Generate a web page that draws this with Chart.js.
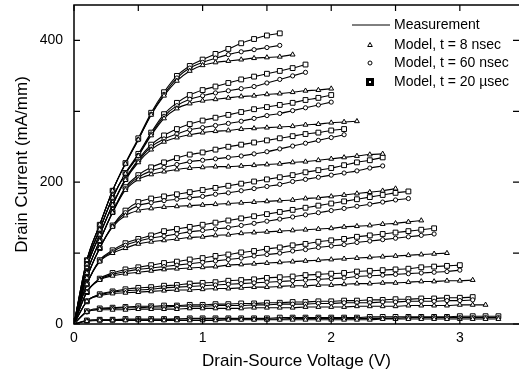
<!DOCTYPE html>
<html>
<head>
<meta charset="utf-8">
<script src="https://cdn.jsdelivr.net/npm/chart.js@4.4.0/dist/chart.umd.min.js"></script>
<style>
  body { margin: 0; background: #fff; }
  #wrap { width: 524px; height: 377px; }
</style>
</head>
<body>
<div id="wrap"><canvas id="ivChart" width="524" height="377"></canvas></div>
<script>
// Drain-source voltage grid (V), one model point every 0.1 V
const vds = [0, 0.1, 0.2, 0.3, 0.4, 0.5, 0.6, 0.7, 0.8, 0.9, 1.0, 1.1, 1.2, 1.3, 1.4, 1.5, 1.6,
  1.7, 1.8, 1.9, 2.0, 2.1, 2.2, 2.3, 2.4, 2.5, 2.6, 2.7, 2.8, 2.9, 3.0, 3.1, 3.2, 3.3];

// Drain current (mA/mm), one group per gate voltage, top to bottom
// Tri = 8 nsec pulse, Circ = 60 nsec, Sq = 20 usec
const g1Tri  = [0,90,140,188,226,260,295,322,343,357,365,369,371,373,375,376,377,380];
const g1Circ = [0,90,140,188,226,260,296,324,347,361,369,375,380,384,387,390,393];
const g1Sq   = [0,90,140,188,227,262,298,327,350,364,373,381,388,396,402,407,410];

const g2Tri  = [0,85,133,178,212,237,266,290,304,311,315,317,319,321,322,324,325,327,329,330,332];
const g2Circ = [0,85,133,178,212,238,268,293,308,317,322,326,329,332,335,340,345,350,355];
const g2Sq   = [0,85,133,178,213,240,270,296,312,323,330,335,340,345,349,353,357,361,366];

const g3Tri  = [0,80,126,168,203,228,246,257,263,267,270,272,273,275,276,277,278,279,281,282,284,285,286];
const g3Circ = [0,80,126,168,204,230,250,261,268,274,277,280,283,286,290,294,297,301,305,309,313];
const g3Sq   = [0,80,126,168,205,232,253,266,275,282,287,291,295,299,303,306,309,312,316,319,323];

const g4Tri  = [0,72,117,157,189,204,211,215,218,220,221,222,222,223,224,225,226,228,229,231,233,235,237,239,240];
const g4Circ = [0,72,117,158,191,207,216,221,225,229,231,233,235,237,240,243,247,251,255,259,263,267];
const g4Sq   = [0,72,117,158,193,210,221,228,234,239,242,246,250,253,256,259,262,265,268,270,273,275];

const g5Tri  = [0,65,107,137,153,160,163,165,166,167,168,169,170,171,172,173,174,175,177,178,180,182,184,186,188,191];
const g5Circ = [0,65,107,138,157,167,171,174,176,178,180,183,185,188,191,194,197,201,204,207,210,213,216,220,223];
const g5Sq   = [0,65,107,139,160,172,177,180,183,186,189,192,195,198,201,204,207,210,214,217,220,224,228,231,235];

const g6Tri  = [0,56,88,100,107,113,116,118,120,122,123,125,126,128,129,130,131,132,133,134,135,137,138,139,141,142,144,146];
const g6Circ = [0,56,89,102,111,117,121,124,127,130,132,134,136,139,142,145,148,151,154,157,160,163,166,169,172,175,177];
const g6Sq   = [0,56,90,104,114,120,125,131,134,137,140,143,146,149,152,155,158,161,164,167,170,173,176,179,182,185,187];

const g7Tri  = [0,45,62,68,71,73,75,77,78,79,80,81,83,84,85,86,87,88,89,90,91,92,93,94,95,96,97,98,99,100];
const g7Circ = [0,45,63,70,74,77,79,81,83,85,87,89,91,93,96,98,100,103,105,108,110,112,115,117,119,121,123,125,127];
const g7Sq   = [0,45,64,72,77,80,83,86,88,91,93,96,98,101,103,106,108,111,113,116,118,120,123,125,127,129,131,133,135];

const g8Tri  = [0,32,40,43,44,45,46,47,48,48,49,50,50,51,52,52,53,54,54,55,55,56,57,57,58,58,59,60,60,61,61,62];
const g8Circ = [0,32,41,45,47,48,49,51,52,53,54,55,56,57,58,59,60,61,62,63,64,65,67,68,69,70,71,72,73,74,76];
const g8Sq   = [0,32,42,46,49,51,52,54,55,57,58,59,61,62,63,65,66,67,69,70,71,72,74,75,76,77,78,80,81,82,83];

const g9Tri  = [0,17,20,20,20,21,21,21,21,22,22,22,22,22,23,23,23,23,24,24,24,24,25,25,25,25,26,26,26,26,27,27,27];
const g9Circ = [0,17,21,22,23,23,24,24,25,25,25,26,26,26,27,27,28,28,28,29,29,30,30,30,31,31,32,32,32,33,33,34];
const g9Sq   = [0,18,22,23,24,25,25,26,26,27,27,28,28,29,29,30,30,31,31,32,32,33,33,34,34,35,35,36,36,37,37,38];

const g10Tri  = [0,4,5,5,5,5,5,5,5,5,5,5,6,6,6,6,6,6,6,6,6,6,6,6,7,7,7,7,7,7,7,7,7,7];
const g10Circ = [0,5,6,6,6,6,6,6,7,7,7,7,7,7,7,7,7,8,8,8,8,8,8,8,8,8,9,9,9,9,9,9,9,9];
const g10Sq   = [0,5,6,6,7,7,7,7,7,8,8,8,8,8,8,8,9,9,9,9,9,9,9,10,10,10,10,10,10,10,11,11,11,11];

const groups = [
  [g1Tri, g1Circ, g1Sq], [g2Tri, g2Circ, g2Sq], [g3Tri, g3Circ, g3Sq], [g4Tri, g4Circ, g4Sq],
  [g5Tri, g5Circ, g5Sq], [g6Tri, g6Circ, g6Sq], [g7Tri, g7Circ, g7Sq], [g8Tri, g8Circ, g8Sq],
  [g9Tri, g9Circ, g9Sq], [g10Tri, g10Circ, g10Sq]
];

const seriesNames = ['Model, t = 8 nsec', 'Model, t = 60 nsec', 'Model, t = 20 \u00b5sec'];
const markerStyles = ['triangle', 'circle', 'rect'];
const markerSizes = [2.8, 2.1, 3.4];

// inward tick marks on the frame
const xTickMarks = [0, 0.5, 1, 1.5, 2, 2.5, 3];
const yTickMarks = [0, 100, 200, 300, 400];

const FONT = "'Liberation Sans', Arial, Helvetica, sans-serif";

const datasets = [];
groups.forEach(g => {
  g.forEach((vals, k) => {
    const pts = vals.map((v, i) => ({ x: vds[i], y: v }));
    // measured curve
    datasets.push({
      label: 'Measurement',
      data: pts,
      showLine: true,
      borderColor: '#000',
      borderWidth: 1.1,
      pointRadius: 0,
      cubicInterpolationMode: 'monotone',
      order: 2
    });
    // model points
    datasets.push({
      label: seriesNames[k],
      data: pts,
      showLine: false,
      pointStyle: markerStyles[k],
      pointRadius: markerSizes[k],
      pointBackgroundColor: '#fff',
      pointBorderColor: '#000',
      pointBorderWidth: 1,
      order: 1
    });
  });
});

// frame, inward ticks and the legend box
const frameAndLegend = {
  id: 'frameAndLegend',
  afterDatasetsDraw(chart) {
    const { ctx, chartArea: a, scales: { x, y } } = chart;
    ctx.save();
    ctx.strokeStyle = '#000';
    ctx.lineWidth = 1.5;
    ctx.beginPath();
    ctx.moveTo(a.right, a.top);
    ctx.lineTo(a.left, a.top);
    ctx.lineTo(a.left, a.bottom);
    ctx.lineTo(a.right, a.bottom);
    ctx.stroke();

    ctx.lineWidth = 1.2;
    ctx.beginPath();
    yTickMarks.forEach(v => {
      const py = y.getPixelForValue(v);
      ctx.moveTo(a.left, py); ctx.lineTo(a.left + 6, py);
      ctx.moveTo(a.right, py); ctx.lineTo(a.right - 6, py);
    });
    xTickMarks.forEach(v => {
      const px = x.getPixelForValue(v);
      ctx.moveTo(px, a.top); ctx.lineTo(px, a.top + 6);
      ctx.moveTo(px, a.bottom); ctx.lineTo(px, a.bottom - 6);
    });
    ctx.stroke();

    // legend
    ctx.fillStyle = '#000';
    ctx.font = '14px ' + FONT;
    ctx.textBaseline = 'middle';
    ctx.textAlign = 'left';
    const tx = 394;
    const rows = [25, 45, 63, 82];

    ctx.lineWidth = 1;
    ctx.beginPath();
    ctx.moveTo(352, rows[0]); ctx.lineTo(390, rows[0]);
    ctx.stroke();
    ctx.fillText('Measurement', tx, rows[0]);

    // triangle
    ctx.beginPath();
    ctx.moveTo(370, rows[1] - 2.5);
    ctx.lineTo(372.3, rows[1] + 1.5);
    ctx.lineTo(367.7, rows[1] + 1.5);
    ctx.closePath();
    ctx.stroke();
    ctx.fillText(seriesNames[0], tx, rows[1]);

    // circle
    ctx.beginPath();
    ctx.arc(370, rows[2], 2, 0, Math.PI * 2);
    ctx.stroke();
    ctx.fillText(seriesNames[1], tx, rows[2]);

    // square
    ctx.fillRect(366, rows[3] - 4, 8, 8);
    ctx.fillStyle = '#fff';
    ctx.fillRect(369, rows[3] - 1, 2, 2);
    ctx.fillStyle = '#000';
    ctx.fillText(seriesNames[2], tx, rows[3]);
    ctx.restore();
  }
};

new Chart(document.getElementById('ivChart'), {
  type: 'scatter',
  data: { datasets },
  plugins: [frameAndLegend],
  options: {
    responsive: false,
    animation: false,
    layout: { padding: { top: 5, right: 0, left: 0, bottom: 0 } },
    plugins: {
      legend: { display: false },
      tooltip: { enabled: false }
    },
    scales: {
      x: {
        type: 'linear',
        min: 0,
        max: 3.46,
        afterFit: s => { s.height = 53; s.paddingLeft = 0; s.paddingRight = 0; },
        grid: { display: false, drawTicks: false },
        border: { display: false },
        ticks: {
          stepSize: 1,
          includeBounds: false,
          padding: 6,
          maxRotation: 0,
          color: '#000',
          font: { size: 14, family: FONT }
        },
        title: {
          display: true,
          text: 'Drain-Source Voltage (V)',
          color: '#000',
          font: { size: 17, family: FONT },
          padding: { top: 0, bottom: 5 }
        }
      },
      y: {
        type: 'linear',
        min: 0,
        max: 450,
        afterFit: s => { s.width = 74; s.paddingTop = 0; s.paddingBottom = 0; },
        grid: { display: false, drawTicks: false },
        border: { display: false },
        ticks: {
          stepSize: 200,
          includeBounds: false,
          padding: 11,
          color: '#000',
          font: { size: 14, family: FONT }
        },
        title: {
          display: true,
          text: 'Drain Current (mA/mm)',
          color: '#000',
          font: { size: 17, family: FONT },
          padding: { top: 12, bottom: 0 }
        }
      }
    }
  }
});
</script>
</body>
</html>
